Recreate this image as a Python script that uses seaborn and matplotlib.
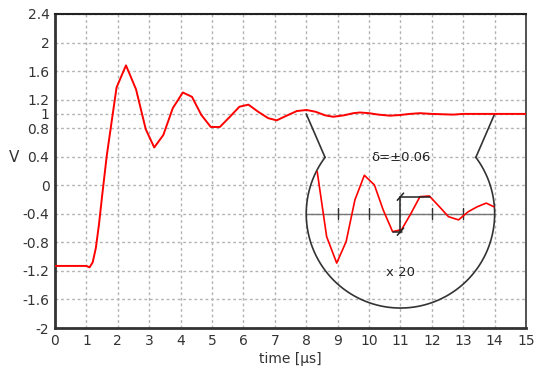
import numpy as np
import pandas as pd
import matplotlib
matplotlib.use("Agg")
import matplotlib.pyplot as plt
import seaborn as sns

# main signal (time in us, volts)
time_us = [0, 1.0, 1.1, 1.2, 1.3, 1.4, 1.5, 1.65, 1.96, 2.26, 2.58, 2.89, 3.16, 3.45,
           3.75, 4.07, 4.36, 4.66, 4.96, 5.25, 5.57, 5.87, 6.16, 6.47, 6.79, 7.06,
           7.4, 7.7, 8.01, 8.3, 8.6, 8.86, 9.2, 9.5, 9.71, 10.0, 10.3, 10.67, 11.0,
           11.3, 11.62, 12.0, 12.68, 13.0, 15.0]
volts = [-1.13, -1.13, -1.15, -1.08, -0.88, -0.55, -0.15, 0.42, 1.37, 1.68, 1.345,
         0.785, 0.53, 0.705, 1.08, 1.30, 1.24, 0.985, 0.817, 0.817, 0.96, 1.10, 1.13,
         1.03, 0.94, 0.91, 0.98, 1.04, 1.055, 1.03, 0.98, 0.96, 0.98, 1.01, 1.02,
         1.01, 0.99, 0.975, 0.985, 1.0, 1.01, 1.0, 0.99, 1.0, 1.0]

# magnified tail (x 20), drawn around the inset baseline
inset_t = [8.35, 8.65, 8.97, 9.27, 9.55, 9.85, 10.17, 10.45, 10.75, 11.04, 11.34,
           11.62, 11.92, 12.24, 12.53, 12.85, 13.16, 13.45, 13.73, 13.97]
inset_dev = [0.59, -0.32, -0.69, -0.39, 0.195, 0.54, 0.405, 0.055, -0.25, -0.22,
             0.01, 0.24, 0.25, 0.10, -0.04, -0.085, 0.03, 0.10, 0.15, 0.10]

x_ticks = list(range(16))
y_ticks = [2.4, 2, 1.6, 1.2, 1, 0.8, 0.4, 0, -0.4, -0.8, -1.2, -1.6, -2]
y_labels = ["2.4", "2", "1.6", "1.2", "1", "0.8", "0.4", "0", "-0.4", "-0.8",
            "-1.2", "-1.6", "-2"]

sns.set_theme(style="white")
plt.rcParams['font.family'] = ['DejaVu Sans']

fig = plt.figure(figsize=(5.35, 3.73), dpi=100)
ax = fig.add_axes([0.1028, 0.1206, 0.8805, 0.8419])

df = pd.DataFrame({'t': time_us, 'v': volts})
sns.lineplot(data=df, x='t', y='v', ax=ax, color='red', lw=1.4,
             sort=False, estimator=None, zorder=5)

# inset: baseline, ticks, circle and magnified curve
base = -0.4
cx, rx, ry = 11.0, 3.0, 1.32
ax.plot([8, 14], [base, base], color='#777777', lw=1.0, zorder=3)
for tk in [9, 10, 12, 13]:
    ax.plot([tk, tk], [base - 0.075, base + 0.075], color='#333333', lw=1.0, zorder=3)

a = np.radians(np.linspace(143.1, 360 + 36.9, 200))
ax.plot(cx + rx * np.cos(a), base + ry * np.sin(a), color='#333333', lw=1.2, zorder=4)
ax.plot([8.0, 8.6], [1.0, 0.39], color='#333333', lw=1.2, zorder=4)
ax.plot([14.0, 13.4], [1.0, 0.39], color='#333333', lw=1.2, zorder=4)

ax.plot(inset_t, [base + d for d in inset_dev], color='red', lw=1.2, zorder=5)

# delta bracket
top, bot = base + 0.24, base - 0.25
ax.plot([11, 11], [bot, top], color='#222222', lw=1.1, zorder=6)
ax.plot([11, 11.95], [top, top], color='#222222', lw=1.1, zorder=6)
ax.plot([10.75, 11.05], [bot, bot], color='#222222', lw=1.1, zorder=6)
for yy in (top, bot):
    ax.plot([10.9, 11.1], [yy - 0.05, yy + 0.05], color='#222222', lw=1.1, zorder=6)

ax.text(11, 0.39, "δ=±0.06", ha='center', va='center', fontsize=9.5, color='#222222')
ax.text(11, -1.22, "x 20", ha='center', va='center', fontsize=9.5, color='#222222')

ax.set_xlim(0, 15)
ax.set_ylim(-2, 2.4)
ax.set_xticks(x_ticks)
ax.set_xticklabels([str(x) for x in x_ticks])
ax.set_yticks(y_ticks)
ax.set_yticklabels(y_labels)
ax.grid(True, color='#b3b3b3', linestyle=(0, (2, 2)), lw=1.0)
ax.set_axisbelow(True)
ax.tick_params(direction='in', length=4, width=1.2, color='#333333',
               labelsize=10, labelcolor='#333333', pad=4)

for side in ['left', 'bottom']:
    ax.spines[side].set_linewidth(2.0)
    ax.spines[side].set_color('#333333')
ax.spines['top'].set_linewidth(1.5)
ax.spines['top'].set_color('#222222')
ax.spines['right'].set_linewidth(1.3)
ax.spines['right'].set_color('#444444')

ax.set_xlabel("time [µs]", fontsize=10, color='#333333', labelpad=3)
ax.set_ylabel("")
fig.text(14 / 535, 1 - 157 / 373, "V", ha='center', va='center', fontsize=11,
         color='#333333')

fig.savefig("out.png", dpi=100)
